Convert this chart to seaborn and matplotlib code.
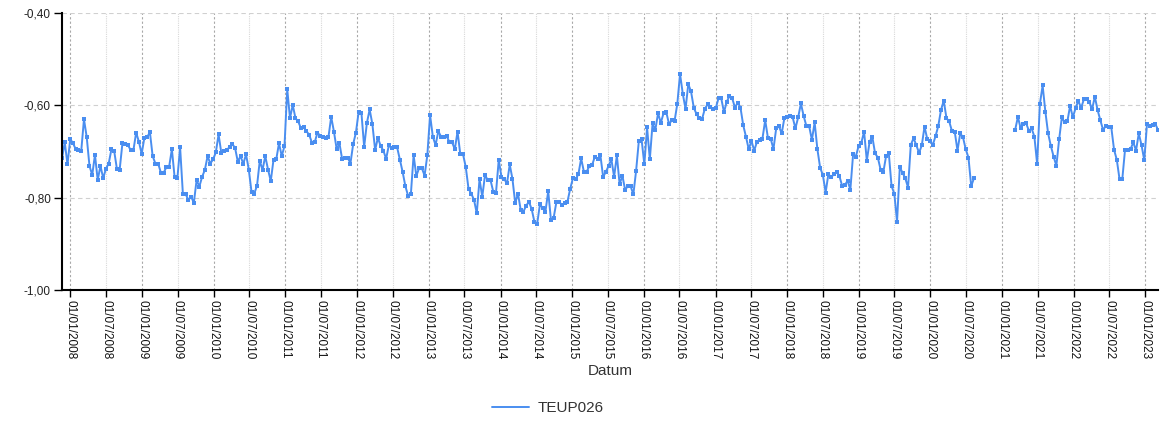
import numpy as np
import pandas as pd
import matplotlib
matplotlib.use("Agg")
import matplotlib.pyplot as plt
import matplotlib.dates as mdates
from matplotlib.ticker import FuncFormatter, MultipleLocator
from matplotlib.lines import Line2D
import seaborn as sns

# ---------------- data (biweekly observations) ----------------
series_name = "TEUP026"
start_date = "2007-11-19"
obs_freq = "14D"

v_2007 = [-0.715, -0.680, -0.728]
v_2008 = [-0.673, -0.682, -0.695, -0.697, -0.699, -0.630, -0.669, -0.731, -0.751, -0.707,
          -0.762, -0.731, -0.758, -0.737, -0.726, -0.695, -0.699, -0.738, -0.739, -0.682,
          -0.684, -0.686, -0.697, -0.697, -0.659, -0.679, -0.705]
v_2009 = [-0.670, -0.669, -0.658, -0.710, -0.726, -0.726, -0.746, -0.746, -0.734, -0.733,
          -0.695, -0.756, -0.758, -0.691, -0.791, -0.792, -0.805, -0.798, -0.811, -0.762,
          -0.776, -0.755, -0.740, -0.710, -0.726, -0.717]
v_2010 = [-0.702, -0.663, -0.703, -0.699, -0.697, -0.690, -0.684, -0.692, -0.722, -0.710,
          -0.727, -0.706, -0.739, -0.788, -0.791, -0.774, -0.720, -0.740, -0.710, -0.739,
          -0.764, -0.718, -0.717, -0.682, -0.710, -0.688]
v_2011 = [-0.565, -0.628, -0.599, -0.628, -0.635, -0.650, -0.648, -0.656, -0.664, -0.681,
          -0.680, -0.659, -0.666, -0.669, -0.670, -0.669, -0.625, -0.657, -0.695, -0.682,
          -0.717, -0.713, -0.713, -0.726, -0.684, -0.659]
v_2012 = [-0.614, -0.616, -0.690, -0.638, -0.609, -0.641, -0.697, -0.670, -0.688, -0.698,
          -0.716, -0.686, -0.693, -0.690, -0.691, -0.718, -0.744, -0.775, -0.796, -0.793,
          -0.708, -0.753, -0.736, -0.736, -0.752, -0.708]
v_2013 = [-0.621, -0.668, -0.686, -0.656, -0.668, -0.668, -0.666, -0.679, -0.680, -0.695,
          -0.657, -0.706, -0.706, -0.734, -0.781, -0.791, -0.805, -0.834, -0.760, -0.798,
          -0.751, -0.762, -0.762, -0.787, -0.789, -0.718]
v_2014 = [-0.756, -0.760, -0.769, -0.728, -0.760, -0.812, -0.791, -0.827, -0.830, -0.817,
          -0.809, -0.825, -0.853, -0.856, -0.814, -0.823, -0.830, -0.786, -0.848, -0.843,
          -0.809, -0.809, -0.816, -0.812, -0.809, -0.781]
v_2015 = [-0.758, -0.760, -0.749, -0.715, -0.744, -0.744, -0.731, -0.729, -0.711, -0.716,
          -0.708, -0.755, -0.744, -0.731, -0.717, -0.755, -0.708, -0.771, -0.752, -0.783,
          -0.775, -0.775, -0.793, -0.742, -0.677, -0.674]
v_2016 = [-0.728, -0.648, -0.717, -0.639, -0.653, -0.617, -0.638, -0.617, -0.615, -0.641,
          -0.632, -0.634, -0.597, -0.532, -0.575, -0.608, -0.554, -0.570, -0.605, -0.619,
          -0.628, -0.630, -0.608, -0.598, -0.603, -0.609]
v_2017 = [-0.606, -0.585, -0.585, -0.615, -0.592, -0.580, -0.585, -0.605, -0.594, -0.605,
          -0.643, -0.668, -0.695, -0.677, -0.698, -0.679, -0.675, -0.672, -0.632, -0.671,
          -0.672, -0.695, -0.650, -0.645, -0.661, -0.627, -0.625]
v_2018 = [-0.623, -0.626, -0.650, -0.626, -0.596, -0.623, -0.645, -0.645, -0.675, -0.637,
          -0.695, -0.735, -0.751, -0.789, -0.749, -0.756, -0.749, -0.744, -0.753, -0.774,
          -0.773, -0.763, -0.783, -0.706, -0.711]
v_2019 = [-0.688, -0.681, -0.657, -0.720, -0.679, -0.668, -0.704, -0.713, -0.739, -0.745,
          -0.710, -0.704, -0.775, -0.791, -0.852, -0.734, -0.746, -0.758, -0.778, -0.686,
          -0.671, -0.686, -0.703, -0.687, -0.646, -0.673, -0.677]
v_2020 = [-0.686, -0.667, -0.645, -0.610, -0.590, -0.628, -0.635, -0.656, -0.657, -0.698,
          -0.661, -0.669, -0.695, -0.713, -0.775, -0.758]
missing_count = 14
v_2021_2023 = [-0.653, -0.625, -0.650, -0.640, -0.639, -0.655, -0.650, -0.668, -0.727, -0.597,
               -0.557, -0.614, -0.661, -0.688, -0.711, -0.731, -0.674, -0.626, -0.637, -0.635,
               -0.601, -0.626, -0.606, -0.590, -0.606, -0.587, -0.587, -0.592, -0.609, -0.581,
               -0.610, -0.632, -0.653, -0.645, -0.648, -0.648, -0.696, -0.718, -0.760, -0.760,
               -0.696, -0.696, -0.695, -0.680, -0.698, -0.661, -0.686, -0.719, -0.640, -0.645,
               -0.642, -0.640, -0.653]

segment_a = (v_2007 + v_2008 + v_2009 + v_2010 + v_2011 + v_2012 + v_2013 + v_2014 +
             v_2015 + v_2016 + v_2017 + v_2018 + v_2019 + v_2020)
values = segment_a + [np.nan] * missing_count + v_2021_2023
segment_id = [0] * len(segment_a) + [-1] * missing_count + [1] * len(v_2021_2023)
dates = pd.date_range(start_date, periods=len(values), freq=obs_freq)

df = pd.DataFrame({"Datum": dates, series_name: values, "segment": segment_id}).dropna()

# ---------------- style ----------------
line_color = "#4a8ef0"
sns.set_theme(style="white")
plt.rcParams["font.family"] = ["Liberation Sans", "DejaVu Sans"]

W, H = 1167, 425
fig = plt.figure(figsize=(W / 100, H / 100), dpi=100)
ax = fig.add_axes([62 / W, 1 - 290 / H, (1158 - 62) / W, (290 - 13) / H])

sns.lineplot(data=df, x="Datum", y=series_name, units="segment", estimator=None,
             color=line_color, linewidth=1.4, marker="s", markersize=3,
             markeredgewidth=0, legend=False, ax=ax)

ax.set_xlim(dates[0], dates[-1])
ax.set_ylim(-1.0, -0.4)

# y axis
ax.yaxis.set_major_locator(MultipleLocator(0.2))
ax.yaxis.set_major_formatter(FuncFormatter(lambda v, p: f"{v:.2f}".replace(".", ",")))
ax.tick_params(axis="y", which="major", length=6, width=1, color="black",
               labelsize=8.5, labelcolor="#222222", pad=2, left=True)

# x axis
ax.xaxis.set_major_locator(mdates.MonthLocator(bymonth=1))
ax.xaxis.set_minor_locator(mdates.MonthLocator(bymonth=7))
fmt = mdates.DateFormatter("%d/%m/%Y")
ax.xaxis.set_major_formatter(fmt)
ax.xaxis.set_minor_formatter(fmt)
ax.tick_params(axis="x", which="both", length=5, width=1, color="black",
               labelsize=8.5, labelcolor="#111111", labelrotation=-90, pad=2, bottom=True)

# grid
ax.grid(axis="x", which="major", color="#a8a8a8", linestyle=(0, (2, 2)), linewidth=0.8)
ax.grid(axis="x", which="minor", color="#d8d8d8", linestyle=(0, (1, 1)), linewidth=0.8)
ax.grid(axis="y", which="major", color="#d0d0d0", linestyle=(0, (4, 3)), linewidth=0.8)

for s in ["top", "right"]:
    ax.spines[s].set_visible(False)
for s in ["left", "bottom"]:
    ax.spines[s].set_color("black")
    ax.spines[s].set_linewidth(1.5)

ax.set_ylabel("")
ax.set_xlabel("Datum", fontsize=11, color="#333333")
ax.xaxis.set_label_coords(0.5, (290 - 364) / 277)

fig.legend(handles=[Line2D([0], [0], color=line_color, linewidth=1.4)],
           labels=[series_name], loc="center",
           bbox_to_anchor=(548 / W, 1 - 408 / H), frameon=False,
           fontsize=11, handlelength=2.4, handletextpad=0.6, labelcolor="#333333")

fig.savefig("out.png", dpi=100)
